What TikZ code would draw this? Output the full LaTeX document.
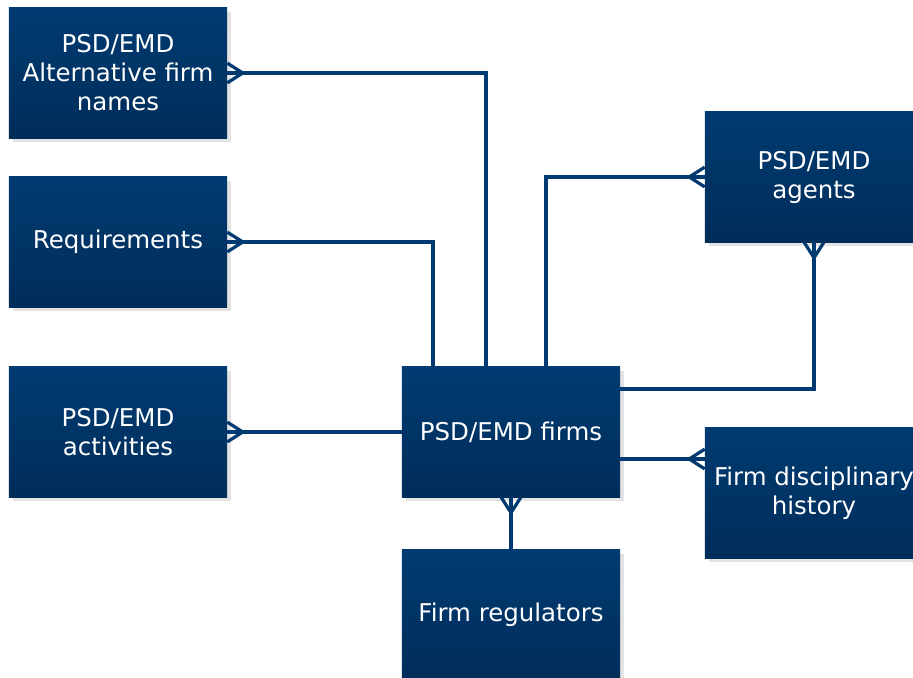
\documentclass[tikz,border=0pt]{standalone}
\usepackage{fontspec}
\setmainfont{DejaVu Sans}
\usetikzlibrary{calc,shadows,arrows.meta}
\definecolor{boxtop}{RGB}{0,59,113}
\definecolor{boxbot}{RGB}{0,45,90}
\definecolor{linkblue}{RGB}{0,58,112}
\pgfdeclarearrow{
  name = Crow,
  parameters = {\the\pgfarrowlength,\the\pgfarrowwidth},
  setup code = {
    \pgfarrowssettipend{0pt}
    \pgfarrowssetlineend{0pt}
    \pgfarrowssetbackend{-\pgfarrowlength}
    \pgfarrowssavethe\pgfarrowlength
    \pgfarrowssavethe\pgfarrowwidth
  },
  drawing code = {
    \pgfsetdash{}{0pt}
    \pgfpathmoveto{\pgfqpoint{0pt}{.5\pgfarrowwidth}}
    \pgfpathlineto{\pgfqpoint{-\pgfarrowlength}{0pt}}
    \pgfpathlineto{\pgfqpoint{0pt}{-.5\pgfarrowwidth}}
    \pgfusepathqstroke
  },
  defaults = {length = 11pt, width = 14pt}
}
\tikzset{
  entity/.style={rectangle, inner sep=0pt, minimum width=5.45cm, minimum height=3.25cm,
    top color=boxtop, bottom color=boxbot, text=white, align=center,
    font=\fontsize{17.4}{20.6}\selectfont,
    drop shadow={shadow xshift=0.1cm, shadow yshift=-0.1cm, fill=black!11, opacity=1}},
  link/.style={draw=linkblue, line width=2.3pt}
}
\begin{document}
\begin{tikzpicture}[x=0.025cm,y=-0.025cm]
\useasboundingbox (0,0) rectangle (913,677);
\node[entity] (altnames) at (118,73) {PSD/EMD\\Alternative firm\\names};
\node[entity] (reqs) at (118,242) {Requirements};
\node[entity] (activities) at (118,432) {PSD/EMD\\activities};
\node[entity] (firms) at (511,432) {PSD/EMD firms};
\node[entity] (regulators) at (511,615) {Firm regulators};
\node[entity] (agents) at (814,177) {PSD/EMD\\agents};
\node[entity] (discipl) at (814,493) {Firm disciplinary\\history};
% relations
\coordinate (d1) at ($(firms.east)+(0,27)$);
\draw[link,-Crow] ($(firms.north)+(-25,0)$) |- (altnames.east);
\draw[link,-Crow] ($(firms.north)+(-78,0)$) |- (reqs.east);
\draw[link,-Crow] (firms.west) -- (activities.east);
\draw[link,-Crow] ($(firms.north)+(35,0)$) |- (agents.west);
\draw[link,-Crow] ($(firms.east)+(0,-43)$) -| (agents.south);
\draw[link,-Crow] (d1) -- (d1 -| discipl.west);
\draw[link,-Crow] (regulators.north) -- (firms.south);
\end{tikzpicture}
\end{document}
